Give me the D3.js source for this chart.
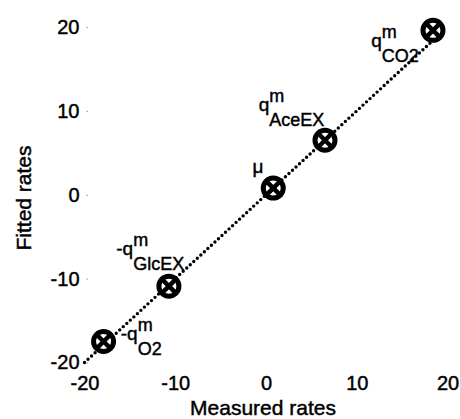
<!DOCTYPE html>
<html>
<head>
<meta charset="utf-8">
<script src="https://cdn.jsdelivr.net/npm/d3@7"></script>
<style>
  body { margin: 0; background: #fff; }
  text { font-family: "Liberation Sans", Arial, sans-serif; fill: #000; stroke: #000; stroke-width: 0.45px; }
</style>
</head>
<body>
<div id="chart"></div>
<script>
// measured vs fitted rates
const names = ["CO2", "AceEX", "mu", "GlcEX", "O2"];
const measured = [18.4, 6.5, 0.8, -10.7, -17.9];
const fitted = [19.6, 6.5, 0.8, -10.9, -17.5];
// label text pieces and where they sit (data units, like matlab text())
const labelMain = ["q", "q", "\u03bc", "-q", "-q"];
const labelSup = ["m", "m", "", "m", "m"];
const labelSub = ["CO2", "AceEX", "", "GlcEX", "O2"];
const labelX = [11.6, -0.8, -1.5, -16.5, -16.0];
const labelY = [17.6, 10.0, 2.6, -7.2, -17.3];
// y = x reference line
const lineX = [-20, 19.4];
const ticks = [-20, -10, 0, 10, 20];

const width = 460, height = 419;

const svg = d3.select("#chart")
  .append("svg")
    .attr("width", width)
    .attr("height", height);

const x = d3.scaleLinear().domain([-20, 20]).range([84.5, 447.5]);
const y = d3.scaleLinear().domain([-20, 20]).range([362.5, 27]);

// axes are almost invisible in the scan, only tiny tick dots
const xAxis = svg.append("g")
  .attr("transform", "translate(0,368)")
  .call(d3.axisBottom(x).tickValues(ticks).tickSize(0).tickFormat(d => String(d)));
xAxis.select(".domain").remove();
xAxis.selectAll("text")
  .attr("dy", 0)
  .attr("y", 22)
  .style("font-size", "20px");

const yAxis = svg.append("g")
  .attr("transform", "translate(88,0)")
  .call(d3.axisLeft(y).tickValues(ticks).tickSize(1.5).tickPadding(7).tickFormat(d => String(d)));
yAxis.select(".domain").remove();
yAxis.selectAll("line").attr("stroke", "#999");
yAxis.selectAll("text")
  .style("font-size", "20px");

// axis titles
svg.append("text")
  .attr("x", 263)
  .attr("y", 415)
  .attr("text-anchor", "middle")
  .style("font-size", "21px")
  .text("Measured rates");

svg.append("text")
  .attr("transform", "translate(31,198) rotate(-90)")
  .attr("text-anchor", "middle")
  .style("font-size", "21px")
  .text("Fitted rates");

// dotted fit line
svg.append("path")
  .datum(lineX)
  .attr("fill", "none")
  .attr("stroke", "#000")
  .attr("stroke-width", 3.4)
  .attr("stroke-linecap", "round")
  .attr("stroke-dasharray", "0 4.8")
  .attr("d", d3.line().x(d => x(d)).y(d => y(d)));

// markers: circle with a cross inside
const pts = svg.append("g")
  .selectAll("g")
  .data(names)
  .enter().append("g")
    .attr("transform", (d, i) => "translate(" + x(measured[i]) + "," + y(fitted[i]) + ")");

pts.append("circle")
  .attr("r", 10)
  .attr("fill", "#fff")
  .attr("stroke", "#000")
  .attr("stroke-width", 5);

pts.append("path")
  .attr("d", "M-7,-7L7,7M-7,7L7,-7")
  .attr("stroke", "#000")
  .attr("stroke-width", 4.5);

// labels  q^m_{sub}
names.forEach(function(n, i) {
  const lx = x(labelX[i]), ly = y(labelY[i]);
  const main = svg.append("text")
    .attr("x", lx)
    .attr("y", ly)
    .style("font-size", "19px")
    .text(labelMain[i]);
  const w = main.node().getComputedTextLength();
  if (labelSup[i]) {
    svg.append("text")
      .attr("x", lx + w)
      .attr("y", ly - 9)
      .style("font-size", "18px")
      .text(labelSup[i]);
  }
  if (labelSub[i]) {
    svg.append("text")
      .attr("x", lx + w)
      .attr("y", ly + 15)
      .style("font-size", "18px")
      .text(labelSub[i]);
  }
});
</script>
</body>
</html>
